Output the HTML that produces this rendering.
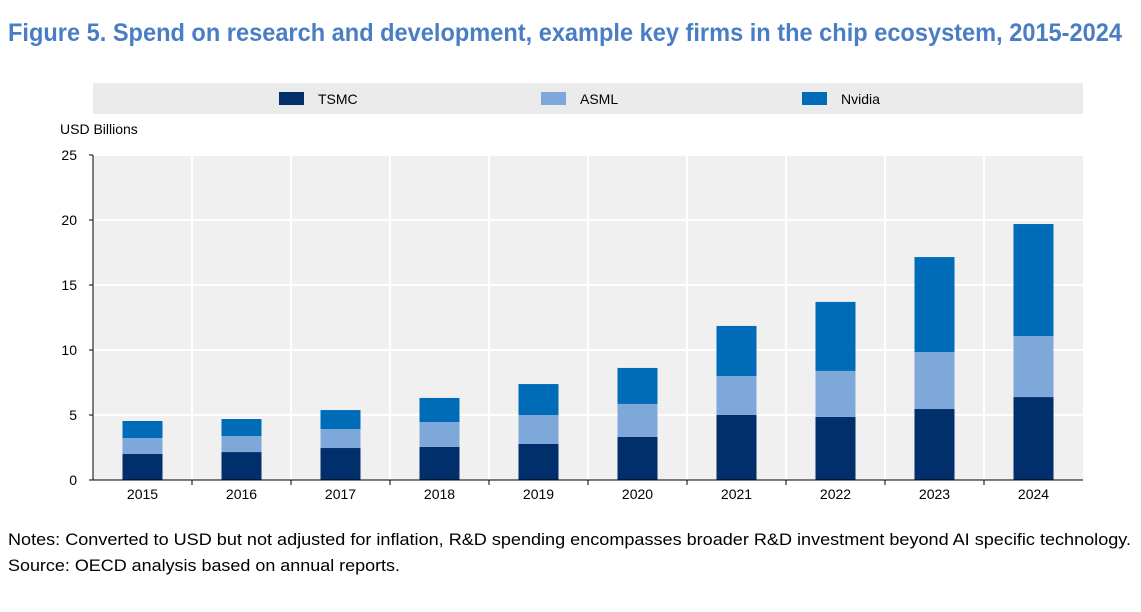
<!DOCTYPE html>
<html><head><meta charset="utf-8"><style>
body{margin:0;background:#fff;width:1141px;height:607px;overflow:hidden;font-family:"Liberation Sans",sans-serif}
</style></head><body>
<svg width="1141" height="607" style="font-family:'Liberation Sans',sans-serif">
<text x="8" y="41" font-size="25" font-weight="bold" fill="#4a7ec4" textLength="1114" lengthAdjust="spacingAndGlyphs">Figure 5. Spend on research and development, example key firms in the chip ecosystem, 2015-2024</text>
<rect x="93" y="83" width="990" height="31" fill="#ebebeb"/>
<g><rect x="279" y="92" width="25" height="13" fill="#002f6c"/><text x="318" y="104" font-size="14" fill="#000">TSMC</text></g>
<g><rect x="541" y="92" width="25" height="13" fill="#7fa8da"/><text x="580" y="104" font-size="14" fill="#000">ASML</text></g>
<g><rect x="802" y="92" width="25" height="13" fill="#006bb6"/><text x="841" y="104" font-size="14" fill="#000">Nvidia</text></g>
<text x="60" y="134" font-size="14">USD Billions</text>
<rect x="93" y="155" width="990" height="325" fill="#f0f0f0"/>
<g id="grid"></g><g id="bars"></g><g id="axes"></g>
<text x="8" y="545" font-size="17" textLength="1123" lengthAdjust="spacingAndGlyphs">Notes: Converted to USD but not adjusted for inflation, R&amp;D spending encompasses broader R&amp;D investment beyond AI specific technology.</text>
<text x="8" y="571" font-size="17" textLength="392" lengthAdjust="spacingAndGlyphs">Source: OECD analysis based on annual reports.</text>
</svg>
<script>
const years=["2015","2016","2017","2018","2019","2020","2021","2022","2023","2024"];
const tsmc=[2.0,2.15,2.46,2.54,2.77,3.31,5.0,4.85,5.46,6.38];
const asml=[1.23,1.23,1.46,1.92,2.23,2.54,3.0,3.54,4.38,4.69];
const nvidia=[1.31,1.31,1.46,1.85,2.38,2.77,3.85,5.31,7.31,8.62];
const yTicks=[0,5,10,15,20,25];
const NS="http://www.w3.org/2000/svg";
const x0=93,x1=1083,yb=480,yt=155,ymax=25;
const bw=(x1-x0)/years.length;
const y=v=>yb-(v/ymax)*(yb-yt);
function mk(t,a,p){const e=document.createElementNS(NS,t);for(const k in a)e.setAttribute(k,a[k]);document.getElementById(p).appendChild(e);return e;}
yTicks.forEach(t=>{
 if(t>0){const g=mk("line",{x1:x0,x2:x1,y1:y(t),y2:y(t),stroke:"#fff","stroke-width":2},"grid");
 
 }
 const tk=mk("line",{x1:x0-4,x2:x0,y1:y(t),y2:y(t),stroke:"#000"},"axes");
 
 
 const l=mk("text",{x:x0-16,y:y(t)+5,"font-size":14,"text-anchor":"end"},"axes");l.textContent=t;
 
 
});
for(let i=1;i<years.length;i++){
 const g=mk("line",{x1:x0+i*bw,x2:x0+i*bw,y1:yt,y2:yb,stroke:"#fff","stroke-width":2},"grid");
 
 
}
years.forEach((yr,i)=>{
 const cx=x0+bw*(i+0.5),w=40;
 let base=0;
 [[tsmc,"#002f6c","tsmc"],[asml,"#7fa8da","asml"],[nvidia,"#006bb6","nvidia"]].forEach(([s,c,n])=>{
  const v=s[i];
  const r=mk("rect",{x:cx-w/2,y:y(base+v),width:w,height:y(base)-y(base+v),fill:c},"bars");
  
  
  base+=v;
 });
 const l=mk("text",{x:cx,y:yb+19,"font-size":14,"text-anchor":"middle"},"axes");l.textContent=yr;
 
 
 if(i>0){const tk=mk("line",{x1:x0+i*bw,x2:x0+i*bw,y1:yb,y2:yb+5,stroke:"#000"},"axes");
 
 }
});
const ya=mk("line",{x1:x0,x2:x0,y1:yt,y2:yb,stroke:"#000"},"axes");


const xa=mk("line",{x1:x0,x2:x1,y1:yb,y2:yb,stroke:"#000"},"axes");


</script>
</body></html>
